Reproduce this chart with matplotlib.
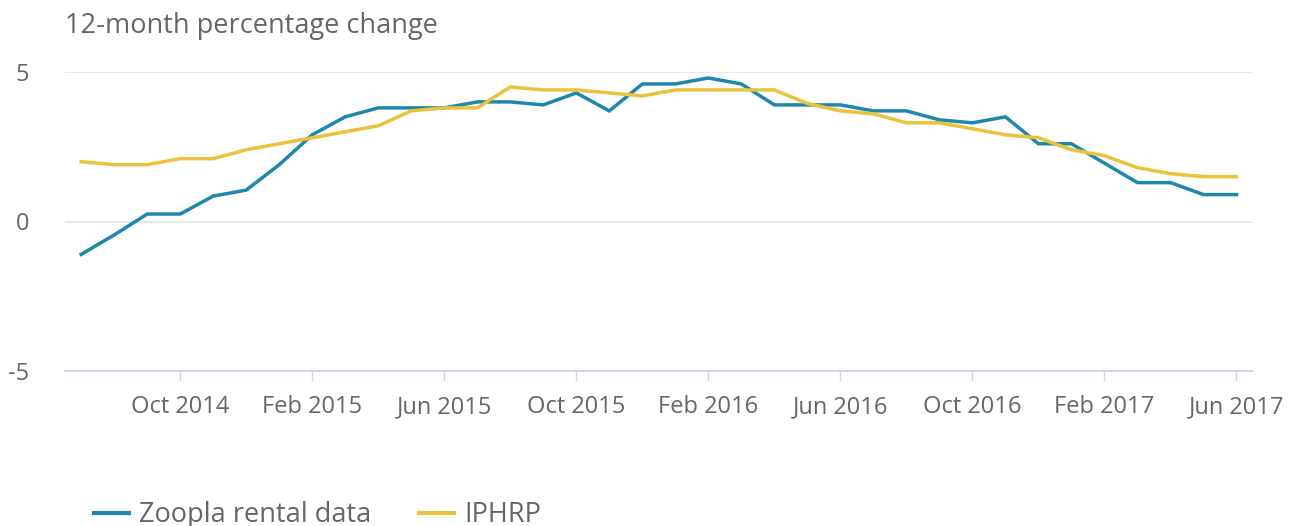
import matplotlib
matplotlib.use("Agg")
import matplotlib.pyplot as plt
from matplotlib.lines import Line2D

months = ["Jul 2014", "Aug 2014", "Sep 2014", "Oct 2014", "Nov 2014", "Dec 2014",
          "Jan 2015", "Feb 2015", "Mar 2015", "Apr 2015", "May 2015", "Jun 2015",
          "Jul 2015", "Aug 2015", "Sep 2015", "Oct 2015", "Nov 2015", "Dec 2015",
          "Jan 2016", "Feb 2016", "Mar 2016", "Apr 2016", "May 2016", "Jun 2016",
          "Jul 2016", "Aug 2016", "Sep 2016", "Oct 2016", "Nov 2016", "Dec 2016",
          "Jan 2017", "Feb 2017", "Mar 2017", "Apr 2017", "May 2017", "Jun 2017"]

zoopla = [-1.1, -0.45, 0.25, 0.25, 0.85, 1.05, 1.9, 2.9, 3.5, 3.8, 3.8, 3.8,
          4.0, 4.0, 3.9, 4.3, 3.7, 4.6, 4.6, 4.8, 4.6, 3.9, 3.9, 3.9,
          3.7, 3.7, 3.4, 3.3, 3.5, 2.6, 2.6, 1.95, 1.3, 1.3, 0.9, 0.9]

iphrp = [2.0, 1.9, 1.9, 2.1, 2.1, 2.4, 2.6, 2.8, 3.0, 3.2, 3.7, 3.8,
         3.8, 4.5, 4.4, 4.4, 4.3, 4.2, 4.4, 4.4, 4.4, 4.4, 3.95, 3.7,
         3.6, 3.3, 3.3, 3.1, 2.9, 2.8, 2.4, 2.2, 1.8, 1.6, 1.5, 1.5]

tick_labels = ["Oct 2014", "Feb 2015", "Jun 2015", "Oct 2015", "Feb 2016",
               "Jun 2016", "Oct 2016", "Feb 2017", "Jun 2017"]
y_ticks = [-5, 0, 5]

series_names = ["Zoopla rental data", "IPHRP"]
colors = ["#1f86ad", "#e8c33b"]

plt.rcParams['font.family'] = ['Open Sans', 'DejaVu Sans']

fig = plt.figure(figsize=(12.96, 5.26), dpi=100)
W, H = 1296, 526
ax = fig.add_axes([65 / W, 1 - 371 / H, (1253 - 65) / W, (371 - 72) / H])

x = list(range(len(months)))
ax.plot(x, zoopla, color=colors[0], lw=2.5, solid_joinstyle='miter', zorder=3, clip_on=False)
ax.plot(x, iphrp, color=colors[1], lw=2.5, solid_joinstyle='miter', zorder=3, clip_on=False)

ax.set_xlim(-0.49, 35.5)
ax.set_ylim(-5, 5)

for s in ax.spines.values():
    s.set_visible(False)
ax.spines['bottom'].set_visible(True)
ax.spines['bottom'].set_color('#ccd6eb')
ax.spines['bottom'].set_linewidth(1.3)

ax.set_yticks(y_ticks)
ax.set_yticklabels([str(v) for v in y_ticks])
ax.yaxis.grid(True, color='#e6e6e6', lw=1.3)
ax.set_axisbelow(True)
ax.tick_params(axis='y', length=0, pad=26, labelsize=17, labelcolor='#666666')

xt = [months.index(t) for t in tick_labels]
ax.set_xticks(xt)
ax.set_xticklabels(tick_labels)
ax.tick_params(axis='x', length=7.5, width=1, color='#ccd6eb', pad=10,
               labelsize=17, labelcolor='#666666')

fig.text(65 / W, 1 - 26 / H, "12-month percentage change", ha='left', va='center',
         fontsize=19.5, color='#666666')

handles = [Line2D([], [], color=c, lw=3) for c in colors]
leg = fig.legend(handles, series_names, loc='center left',
                 bbox_to_anchor=(94 / W, 1 - 515 / H), ncol=2, frameon=False,
                 fontsize=19.5, labelcolor='#666666', handlelength=1.3,
                 handletextpad=0.37, columnspacing=1.75, borderpad=0,
                 borderaxespad=0)

fig.savefig("out.png", dpi=100)
